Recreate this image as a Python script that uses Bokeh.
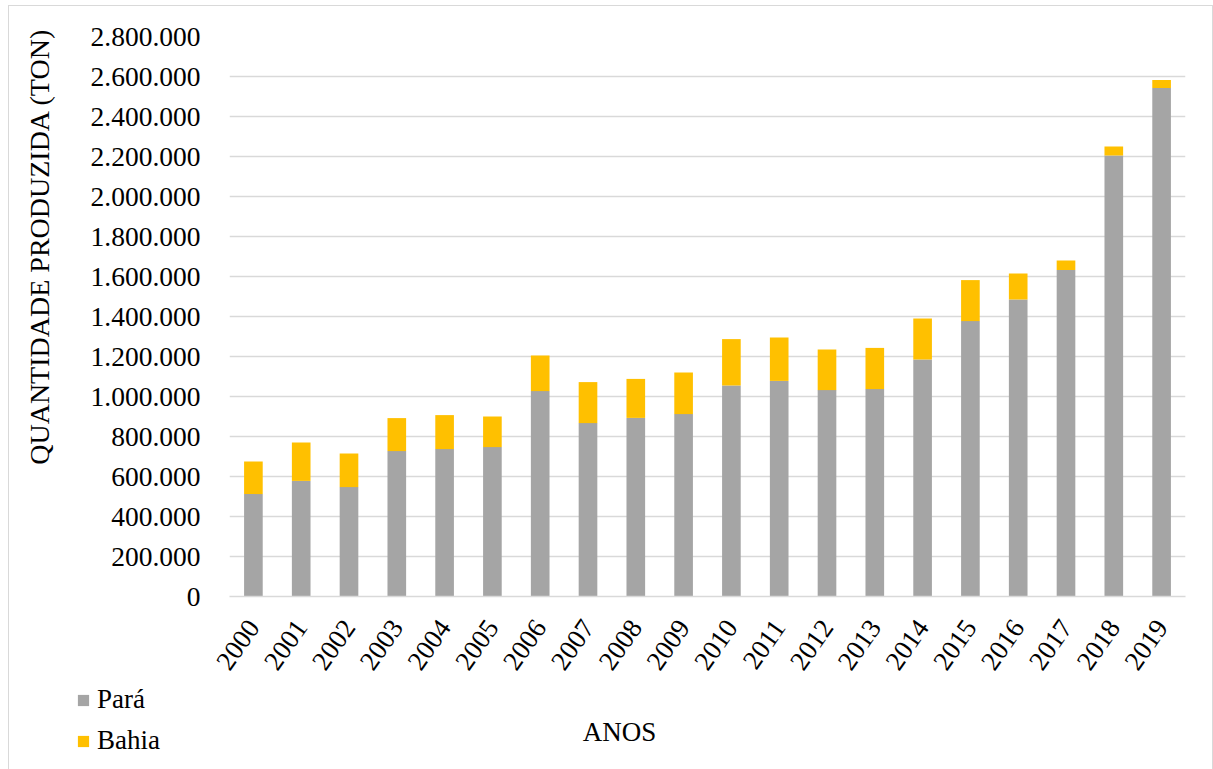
import math

from bokeh.plotting import figure
from bokeh.layouts import column, row
from bokeh.models import (ColumnDataSource, FactorRange, Range1d, FixedTicker,
                          CustomJSTickFormatter, Legend, LegendItem, Label)
from bokeh.embed import file_html
from bokeh.resources import INLINE

# Produção anual (toneladas) por estado
anos = ["2000", "2001", "2002", "2003", "2004", "2005", "2006", "2007", "2008", "2009",
        "2010", "2011", "2012", "2013", "2014", "2015", "2016", "2017", "2018", "2019"]
para = [512000, 578000, 547000, 727000, 737000, 747000, 1027000, 867000, 893000, 912000,
        1055000, 1078000, 1032000, 1037000, 1185000, 1377000, 1485000, 1632000, 2205000, 2542000]
bahia = [163000, 192000, 168000, 165000, 170000, 153000, 178000, 205000, 195000, 208000,
         232000, 217000, 203000, 206000, 205000, 205000, 130000, 48000, 45000, 41000]
y_ticks = [0, 200000, 400000, 600000, 800000, 1000000, 1200000, 1400000,
           1600000, 1800000, 2000000, 2200000, 2400000, 2600000, 2800000]

FONT = "Liberation Serif"
FS = "27px"
GRID = "#d9d9d9"
CORES = ["#a5a5a5", "#ffc000"]

src = ColumnDataSource(dict(ano=anos, para=para, bahia=bahia))


def faixa(width, height, x_range=None):
    """Figura sem eixos cujo quadro ocupa toda a área (para textos e legenda)."""
    f = figure(
        x_range=x_range or Range1d(0, 1), y_range=Range1d(0, 1),
        width=width, height=height,
        output_backend="svg", toolbar_location=None,
        x_axis_location=None, y_axis_location=None,
        min_border=0, outline_line_color=None,
    )
    f.grid.visible = False
    f.frame_align = False
    return f


# --- título do eixo Y --------------------------------------------------------
lateral = faixa(70, 674)
lateral.add_layout(Label(x=30, y=434, x_units="screen", y_units="screen",
                         text="QUANTIDADE PRODUZIDA (TON)", angle=math.pi / 2,
                         text_align="center", text_baseline="middle",
                         text_font=FONT, text_font_size="28px", text_color="black"))

# --- gráfico principal -------------------------------------------------------
p = figure(
    x_range=FactorRange(*anos, range_padding=0),
    y_range=Range1d(0, 2800000),
    width=1133, height=674,
    output_backend="svg", toolbar_location=None,
    min_border_left=150, min_border_right=27,
    min_border_top=30, min_border_bottom=84,
    outline_line_color=None,
)
p.frame_align = False

p.vbar_stack(["para", "bahia"], x="ano", width=0.39, source=src,
             color=CORES, line_color=None)

p.yaxis.ticker = FixedTicker(ticks=y_ticks)
p.yaxis.formatter = CustomJSTickFormatter(
    code='return tick.toFixed(0).replace(/\\B(?=(\\d{3})+(?!\\d))/g, ".");')
p.yaxis.axis_line_color = None
p.yaxis.major_tick_line_color = None
p.yaxis.minor_tick_line_color = None
p.yaxis.major_label_standoff = 23
p.yaxis.major_label_text_font = FONT
p.yaxis.major_label_text_font_size = "27.5px"
p.yaxis.major_label_text_color = "black"

p.xaxis.axis_line_color = GRID
p.xaxis.axis_line_width = 1.5
p.xaxis.major_tick_line_color = None
p.xaxis.minor_tick_line_color = None
p.xaxis.major_label_orientation = math.radians(55)
p.xaxis.major_label_standoff = 20
p.xaxis.major_label_text_font = FONT
p.xaxis.major_label_text_font_size = FS
p.xaxis.major_label_text_color = "black"

p.xgrid.grid_line_color = None
p.ygrid.grid_line_color = GRID
p.ygrid.grid_line_width = 1.5

# --- faixa inferior: legenda e título do eixo X ------------------------------
rodape = faixa(1203, 90, x_range=FactorRange(*anos, range_padding=0))

# renderizadores ocultos que apenas fornecem os símbolos da legenda
r_para = rodape.vbar(x="ano", top="para", width=0.39, source=src,
                     color=CORES[0], line_color=None, visible=False)
r_bahia = rodape.vbar(x="ano", top="bahia", width=0.39, source=src,
                      color=CORES[1], line_color=None, visible=False)

rodape.add_layout(Legend(
    items=[LegendItem(label="Pará", renderers=[r_para]),
           LegendItem(label="Bahia", renderers=[r_bahia])],
    location=(67, 14), orientation="vertical",
    padding=0, margin=0, spacing=10, label_height=31,
    glyph_height=14, glyph_width=14, label_standoff=7,
    label_text_font=FONT, label_text_font_size=FS, label_text_color="black",
    border_line_alpha=0, background_fill_alpha=0,
    inactive_fill_alpha=0,
))

rodape.add_layout(Label(x=610, y=39, x_units="screen", y_units="screen",
                        text="ANOS", text_align="center", text_baseline="middle",
                        text_font=FONT, text_font_size=FS, text_color="black"))

layout = column(row(lateral, p, spacing=0), rodape, spacing=0)
layout.margin = (5, 0, 0, 8)
layout.styles = {"border": "1px solid #d9d9d9"}

open("out.html", "w").write(file_html(layout, INLINE))
